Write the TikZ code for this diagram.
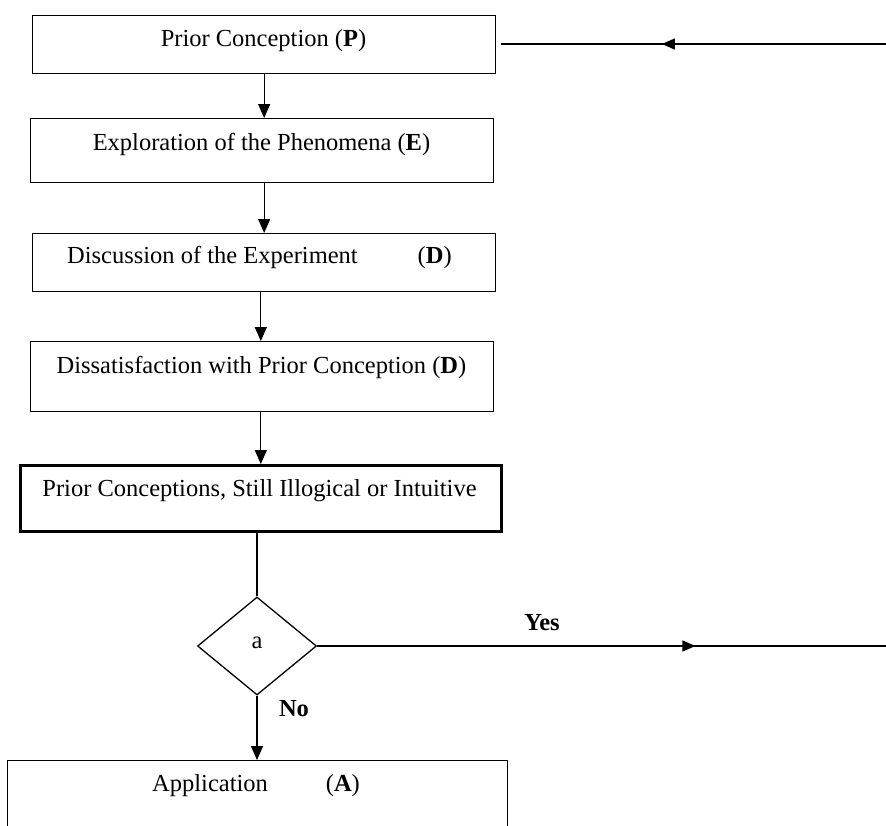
\documentclass[tikz,border=0pt]{standalone}
\usepackage{fontspec}
\setmainfont{Liberation Serif}
\usetikzlibrary{arrows.meta,shapes.geometric,decorations.markings}
\begin{document}
\begin{tikzpicture}[x=1pt,y=-1pt,
  box/.style={draw,line width=1.3pt,rectangle,anchor=north west,inner sep=0pt},
  txt/.style={inner sep=0pt,font=\fontsize{24.5}{29}\selectfont},
  arr/.style={line width=1.3pt,-{Triangle[length=14pt,width=12pt]}},
  plain/.style={line width=1.3pt},
  midleft/.style={postaction={decorate},decoration={markings,mark=at position #1 with {\arrow{Triangle[length=13pt,width=11pt]}}}}
]
\useasboundingbox (0,0) rectangle (886,825);
\clip (0,0) rectangle (886,825);
\fill[white] (0,0) rectangle (886,825);
% boxes
\node[box,minimum width=463pt,minimum height=58pt] (b1) at (32,15) {};
\node[txt] (t1) at (263.5,41) {Prior Conception (\textbf{P})};
\node[box,minimum width=463pt,minimum height=64pt] (b2) at (30,118) {};
\node[txt] (t2) at (261.5,144) {Exploration of the Phenomena (\textbf{E})};
\node[box,minimum width=463pt,minimum height=58pt] (b3) at (32,233) {};
\node[txt,anchor=west] (t3) at (67,257) {Discussion of the Experiment\hspace*{60pt}(\textbf{D})};
\node[box,minimum width=463pt,minimum height=70pt] (b4) at (30,341) {};
\node[txt] (t4) at (261.5,367) {Dissatisfaction with Prior Conception (\textbf{D})};
\node[box,line width=2.6pt,minimum width=481pt,minimum height=66pt] (b5) at (19,464) {};
\node[txt] (t5) at (259.5,491) {Prior Conceptions, Still Illogical or Intuitive};
\node[draw,diamond,line width=1.3pt,minimum width=119pt,minimum height=98pt,inner sep=0pt] (d) at (257,646) {};
\node[txt] (ta) at (257,643) {a};
\node[box,minimum width=500pt,minimum height=120pt] (b6) at (7,760) {};
\node[txt,anchor=west] (t6) at (152,786) {Application\hspace*{58pt}(\textbf{A})};
% labels
\node[txt] (yes) at (542,623) {\textbf{Yes}};
\node[txt] (no) at (294,709) {\textbf{No}};
% connectors
\coordinate (rin) at (886,44);
\coordinate (rout) at (886,646);
\draw[arr] (b1.south) -- (b1.south |- b2.north);
\draw[arr] (b2.south -| b1.south) -- (b1.south |- b3.north);
\draw[arr] (b3.south -| b5.south) -- (b5.south |- b4.north);
\draw[arr] (b4.south -| b5.south) -- (b5.south |- b5.north);
\draw[plain] (b5.south -| d.north) -- (d.north);
\draw[arr] (d.south) -- (d.south |- b6.north);
\draw[plain,midleft=0.575,shorten >=5pt] (rin) -- (b1.east |- rin);
\draw[plain,midleft=0.665] (d.east) -- (rout);
\end{tikzpicture}
\end{document}
